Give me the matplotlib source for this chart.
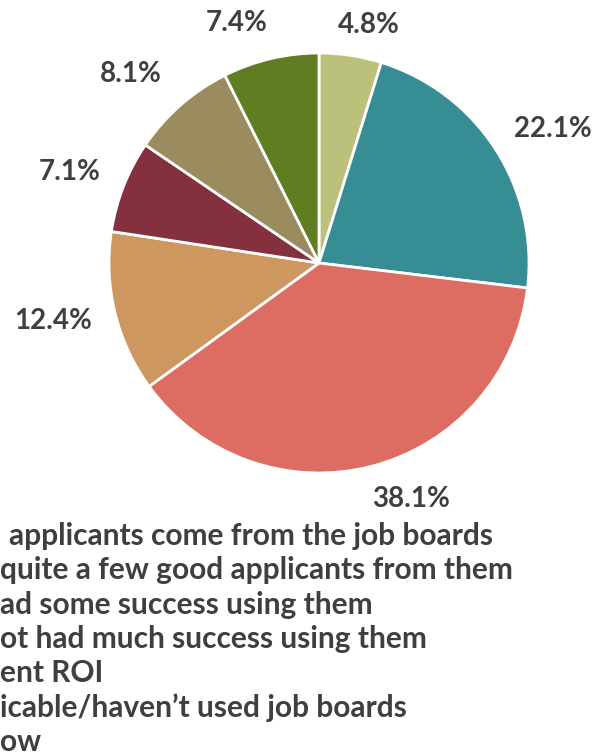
import matplotlib
matplotlib.use("Agg")
import matplotlib.pyplot as plt
import numpy as np

# Survey shares, clockwise from 12 o'clock
shares = [4.8, 22.1, 38.1, 12.4, 7.1, 8.1, 7.4]
colors = ["#BBC07A", "#368D94", "#DD6D62", "#CE975F", "#84303E", "#9A8C5E", "#607D22"]
legend_lines = [
    "applicants come from the job boards",
    "quite a few good applicants from them",
    "ad some success using them",
    "ot had much success using them",
    "ent ROI",
    "icable/haven\u2019t used job boards",
    "ow",
]

W, H, DPI = 594, 755, 100
TEXT = "#3F3F3F"
FONT = "Lato"

fig = plt.figure(figsize=(W / DPI, H / DPI), dpi=DPI)
fig.patch.set_facecolor("white")

# pie centre and radius in pixels
cx, cy, r = 319, 263, 210
ax = fig.add_axes([(cx - r) / W, (H - cy - r) / H, 2 * r / W, 2 * r / H])
wedges, _ = ax.pie(shares, colors=colors, startangle=90, counterclock=False,
                   radius=1, wedgeprops=dict(edgecolor="white", linewidth=2.0))
ax.set_xlim(-1, 1)
ax.set_ylim(-1, 1)
ax.axis("off")

# percentage labels just outside each wedge
label_radius = 1.12
label_shift_px = [(10, -5), (4, 0), (23, 2), (0, 0), (-2, 1), (-13, 4), (-21, 0)]
for w, val, (sx, sy) in zip(wedges, shares, label_shift_px):
    theta = np.deg2rad((w.theta1 + w.theta2) / 2)
    txt = f"{val:.1f}%"
    half_w = 15.4 * len(txt) / 2
    half_h = 11
    dx = half_w * np.cos(theta) + sx
    dy = half_h * np.sin(theta) + sy
    x = label_radius * np.cos(theta) + dx / r
    y = label_radius * np.sin(theta) + dy / r
    ax.text(x, y, txt, ha="center", va="center", family=FONT, weight="bold",
            fontsize=20, color=TEXT, clip_on=False)

# legend entries, left-aligned beneath the pie
legend_x = [9, 0, 0, 0, 0, 0, 0]
first_baseline = 545
line_step = 34.3
for i, (line, lx) in enumerate(zip(legend_lines, legend_x)):
    fig.text(lx / W, 1 - (first_baseline + i * line_step) / H, line,
             ha="left", va="baseline", family=FONT, weight="bold",
             fontsize=21.5, color=TEXT)

fig.savefig("out.png", dpi=DPI, facecolor="white")
